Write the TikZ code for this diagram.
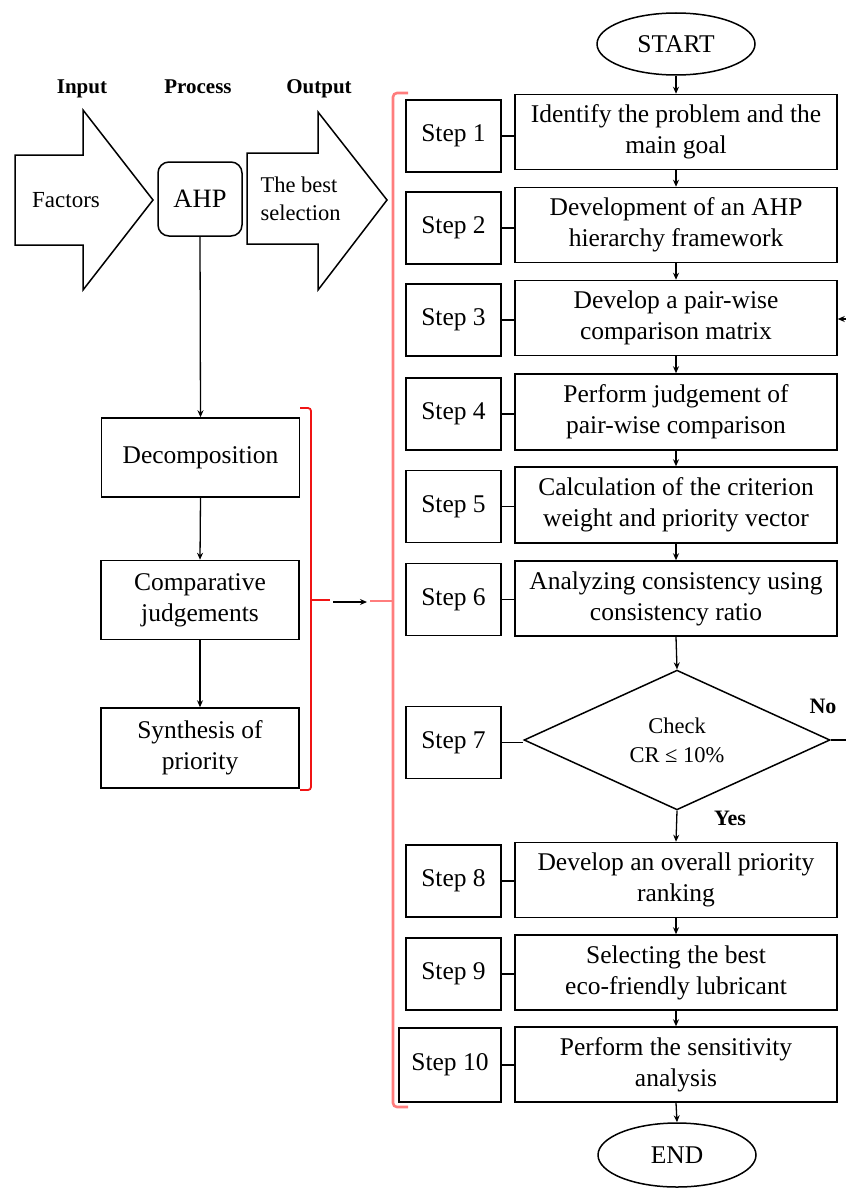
\documentclass[tikz,border=0pt]{standalone}
\usepackage{fontspec}
\setmainfont{Liberation Serif}
\usetikzlibrary{shapes.geometric,arrows.meta}
\definecolor{brace}{RGB}{255,125,125}
\definecolor{bracered}{RGB}{240,20,20}
\begin{document}
\begin{tikzpicture}[x=1pt,y=-1pt,
  font=\fontsize{25.5}{31}\selectfont,
  box/.style={draw,line width=1.5pt,inner sep=0pt,align=center},
  stepbox/.style={box,minimum width=322pt,minimum height=75pt},
  tagbox/.style={box,minimum width=95pt,minimum height=72pt},
  leftbox/.style={box,minimum width=198pt,minimum height=79pt},
  terminal/.style={draw,line width=1.5pt,ellipse,inner sep=0pt,minimum width=158pt,minimum height=62pt},
  flow/.style={line width=1.3pt,-{Stealth[length=7pt,width=6pt]}},
  link/.style={line width=1.3pt},
  head/.style={font=\fontsize{21}{25}\selectfont\bfseries,anchor=base},
  bigarrow/.style={draw,line width=1.5pt}
]
\useasboundingbox (0,0) rectangle (846,1188);

% Input / Process / Output strip
\node[head] (hin) at (82,94) {Input};
\node[head] (hpr) at (198,94) {Process};
\node[head] (hout) at (319,94) {Output};
\draw[bigarrow] (15,155) -- (83,155) -- (83,110) -- (153,200) -- (83,290) -- (83,245) -- (15,245) -- cycle;
\draw[bigarrow] (247,153) -- (318,153) -- (318,112) -- (387,200) -- (318,290) -- (318,244) -- (247,244) -- cycle;
\node[font=\fontsize{23}{28}\selectfont] (factors) at (66,200) {Factors};
\node[font=\fontsize{22.5}{28}\selectfont,align=left,anchor=west] (best) at (257,199) {The best\\selection};
\node[box,rounded corners=11pt,minimum width=84pt,minimum height=74pt,font=\fontsize{26.5}{30}\selectfont] (ahp) at (200,199) {AHP};

% AHP sub-steps
\node[leftbox] (dec) at (200.5,457.5) {Decomposition};
\node[leftbox] (comp) at (200,600) {Comparative\\judgements};
\node[leftbox,minimum height=80pt] (syn) at (200,748) {Synthesis of\\priority};
\draw[flow] (ahp.south) -- (dec.north);
\draw[flow] (dec.south) -- (comp.north);
\draw[flow] (comp.south) -- (syn.north);

% brackets
\draw[bracered,line width=1.8pt,rounded corners=3pt] (300,408) -- (311,408) -- (311,790) -- (300,790);
\coordinate (lbmid) at (311,600);
\coordinate (lbtip) at (330,600);
\draw[bracered,line width=1.8pt] (lbmid) -- (lbtip);
\coordinate (arrA) at (333,602);
\coordinate (arrB) at (367,602);
\draw[flow] (arrA) -- (arrB);
\draw[brace,line width=2.6pt,rounded corners=4pt] (408,93) -- (393,93) -- (393,1107) -- (408,1107);
\coordinate (rbmid) at (393,601);
\coordinate (rbtip) at (370,601);
\draw[brace,line width=2.6pt] (rbmid) -- (rbtip);

% main flow
\node[terminal] (start) at (676,44) {START};
\node[stepbox] (s1) at (676,132) {Identify the problem and the\\main goal};
\node[stepbox] (s2) at (676,225) {Development of an AHP\\hierarchy framework};
\node[stepbox] (s3) at (676,318) {Develop a pair-wise\\comparison matrix};
\node[stepbox,minimum height=76pt] (s4) at (676,412) {Perform judgement of\\pair-wise comparison};
\node[stepbox,minimum height=76pt] (s5) at (676,505) {Calculation of the criterion\\weight and priority vector};
\node[stepbox] (s6) at (676,598.5) {Analyzing consistency using\\consistency ratio};
\node[draw,line width=1.5pt,diamond,inner sep=0pt,minimum width=306pt,minimum height=136pt,align=center,font=\fontsize{22.5}{29}\selectfont] (s7) at (677,740) {Check\\CR ≤ 10\%};
\node[stepbox] (s8) at (676,880) {Develop an overall priority\\ranking};
\node[stepbox] (s9) at (676,972.5) {Selecting the best\\eco-friendly lubricant};
\node[stepbox] (s10) at (676,1064.5) {Perform the sensitivity\\analysis};
\node[terminal,minimum height=64pt] (end) at (677,1155) {END};

\draw[flow] (start.south) -- (s1.north);
\draw[flow] (s1.south) -- (s2.north);
\draw[flow] (s2.south) -- (s3.north);
\draw[flow] (s3.south) -- (s4.north);
\draw[flow] (s4.south) -- (s5.north);
\draw[flow] (s5.south) -- (s6.north);
\draw[flow] (s6.south) -- (s7.north);
\draw[flow] (s7.south) -- (s8.north);
\draw[flow] (s8.south) -- (s9.north);
\draw[flow] (s9.south) -- (s10.north);
\draw[flow] (s10.south) -- (end.north);

% loop back when the check fails
\coordinate (noout) at (846,740);
\coordinate (noin) at (846,319);
\draw[link] (s7.east) -- (noout);
\draw[flow] (noin) -- (noin -| s3.east);
\node[font=\fontsize{22}{26}\selectfont\bfseries] (nolab) at (823,706) {No};
\node[font=\fontsize{22}{26}\selectfont\bfseries] (yeslab) at (730,818) {Yes};

% step tags
\node[tagbox] (l1) at (453.5,136) {Step 1};
\node[tagbox] (l2) at (453.5,228) {Step 2};
\node[tagbox] (l3) at (453.5,320) {Step 3};
\node[tagbox] (l4) at (453.5,414) {Step 4};
\node[tagbox] (l5) at (453.5,506.5) {Step 5};
\node[tagbox] (l6) at (453.5,599.5) {Step 6};
\node[tagbox] (l7) at (453.5,742.5) {Step 7};
\node[tagbox] (l8) at (453.5,881) {Step 8};
\node[tagbox] (l9) at (453.5,974) {Step 9};
\node[tagbox,minimum width=102pt,minimum height=74pt] (l10) at (450,1065) {Step 10};
\foreach \i in {1,2,3,4,5,6,8,9,10}{
  \draw[link] (l\i.east) -- (l\i.east -| s\i.west);
}
\draw[link] (l7.east) -- (l7.east -| s7.west);
\end{tikzpicture}
\end{document}
